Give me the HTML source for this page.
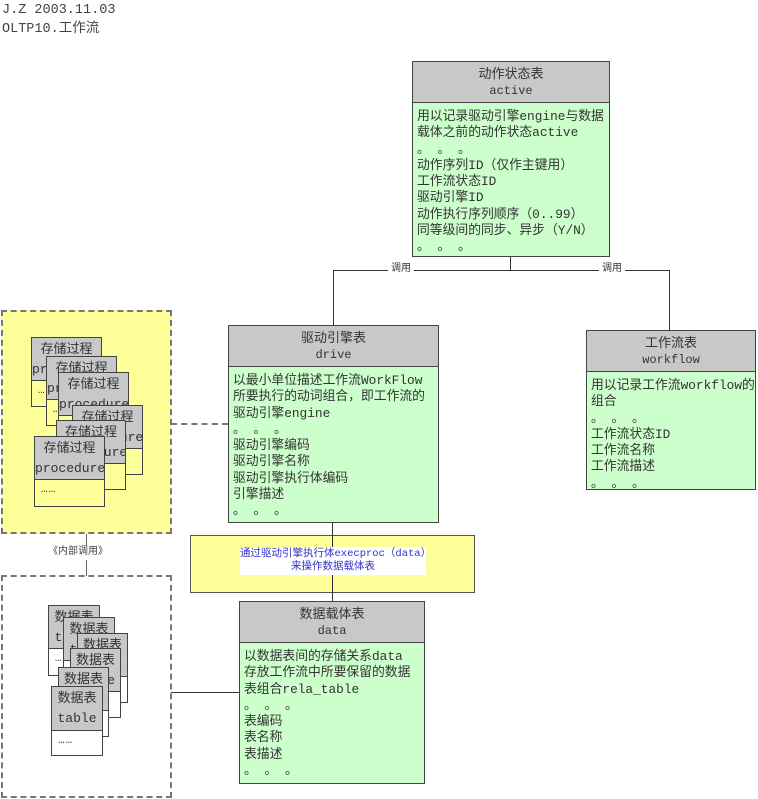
<!DOCTYPE html>
<html><head><meta charset="utf-8"><style>
*{margin:0;padding:0;box-sizing:border-box}
body{width:758px;height:799px;background:#fff;position:relative;overflow:hidden;font-family:"Liberation Mono","Noto Sans CJK SC",monospace;font-size:12px;color:#333}
.a{position:absolute}
.hd{position:absolute;background:#c8c8c8;border:1px solid #444;text-align:center;line-height:17px;padding-top:4px;font-size:13px}
.hd small{font-size:12px;display:block}
.bd{position:absolute;background:#ccffcc;border:1px solid #444;border-top:none;padding:6px 0 0 4px;line-height:16.3px;white-space:nowrap;font-size:12.8px}
.ln{position:absolute;background:#333}
.c{position:absolute;border:1.5px solid #444;background:#ffff99}
.c .h{background:#c8c8c8;border-bottom:1.5px solid #444;text-align:center;line-height:20px;padding-top:2px;font-size:13px;overflow:hidden;white-space:nowrap}
.c .d{padding:4px 0 0 6px;font-size:11px;letter-spacing:1px}
.w{background:#fff}
</style></head><body>
<div class="a" style="left:2px;top:1px;line-height:19px;font-size:13.5px;color:#444">J.Z 2003.11.03<br>OLTP10.工作流</div>

<div class="ln" style="left:510px;top:256px;width:1px;height:15px"></div>
<div class="ln" style="left:333px;top:270px;width:337px;height:1px"></div>
<div class="ln" style="left:333px;top:270px;width:1px;height:56px"></div>
<div class="ln" style="left:669px;top:270px;width:1px;height:61px"></div>
<div class="a" style="left:388px;top:263px;background:#fff;font-size:10px;padding:0 3px;line-height:14px">调用</div>
<div class="a" style="left:599px;top:263px;background:#fff;font-size:10px;padding:0 3px;line-height:14px">调用</div>
<div class="ln" style="left:332px;top:522px;width:1px;height:80px"></div>
<div class="a" style="left:171px;top:423px;width:57px;border-top:2px dashed #777"></div>
<div class="ln" style="left:171px;top:692px;width:68px;height:1px"></div>
<div class="ln" style="left:86px;top:533px;width:1px;height:43px;background:#666"></div>

<div class="hd" style="left:412px;top:61px;width:198px;height:42px">动作状态表<small>active</small></div>
<div class="bd" style="left:412px;top:103px;width:198px;height:154px">用以记录驱动引擎engine与数据<br>载体之前的动作状态active<br>。 。 。<br>动作序列ID（仅作主键用）<br>工作流状态ID<br>驱动引擎ID<br>动作执行序列顺序（0..99）<br>同等级间的同步、异步（Y/N）<br>。 。 。</div>

<div class="hd" style="left:228px;top:325px;width:211px;height:42px">驱动引擎表<small>drive</small></div>
<div class="bd" style="left:228px;top:367px;width:211px;height:156px">以最小单位描述工作流WorkFlow<br>所要执行的动词组合，即工作流的<br>驱动引擎engine<br>。 。 。<br>驱动引擎编码<br>驱动引擎名称<br>驱动引擎执行体编码<br>引擎描述<br>。 。 。</div>

<div class="hd" style="left:586px;top:330px;width:170px;height:42px">工作流表<small>workflow</small></div>
<div class="bd" style="left:586px;top:372px;width:170px;height:118px">用以记录工作流workflow的<br>组合<br>。 。 。<br>工作流状态ID<br>工作流名称<br>工作流描述<br>。 。 。</div>

<div class="a" style="left:190px;top:535px;width:285px;height:58px;background:#ffff99;border:1px solid #555"></div>
<div class="ln" style="left:332px;top:535px;width:1px;height:66px"></div>
<div class="a" style="left:240px;top:547px;width:186px;height:28px;background:#fff;color:#3333cc;font-size:10.5px;line-height:13px;text-align:center;padding-top:1px;white-space:nowrap">通过驱动引擎执行体execproc（data）<br>来操作数据载体表</div>

<div class="hd" style="left:239px;top:601px;width:186px;height:42px">数据载体表<small>data</small></div>
<div class="bd" style="left:239px;top:643px;width:186px;height:141px">以数据表间的存储关系data<br>存放工作流中所要保留的数据<br>表组合rela_table<br>。 。 。<br>表编码<br>表名称<br>表描述<br>。 。 。</div>

<div class="a" style="left:1px;top:310px;width:171px;height:224px;background:#ffff99;border:2px dashed #777"></div>
<div class="c" style="left:31px;top:337px;width:71px;height:70px"><div class="h">存储过程<br>procedure</div><div class="d">……</div></div>
<div class="c" style="left:46px;top:356px;width:71px;height:70px"><div class="h">存储过程<br>procedure</div><div class="d">……</div></div>
<div class="c" style="left:58px;top:372px;width:71px;height:70px"><div class="h">存储过程<br>procedure</div><div class="d">……</div></div>
<div class="c" style="left:72px;top:405px;width:71px;height:70px"><div class="h">存储过程<br>procedure</div><div class="d">……</div></div>
<div class="c" style="left:56px;top:420px;width:70px;height:70px"><div class="h">存储过程<br>procedure</div><div class="d">……</div></div>
<div class="c" style="left:34px;top:436px;width:71px;height:71px"><div class="h" style="height:43px">存储过程<br>procedure</div><div class="d">……</div></div>

<div class="a" style="left:46px;top:546px;font-size:10px;line-height:14px;background:#fff;padding:0 2px;color:#444">《内部调用》</div>

<div class="a" style="left:1px;top:575px;width:171px;height:223px;border:2px dashed #777"></div>
<div class="c w" style="left:48px;top:605px;width:52px;height:71px"><div class="h">数据表<br>table</div><div class="d">……</div></div>
<div class="c w" style="left:63px;top:617px;width:52px;height:70px"><div class="h">数据表<br>table</div><div class="d">……</div></div>
<div class="c w" style="left:77px;top:633px;width:51px;height:70px"><div class="h">数据表<br>table</div><div class="d">……</div></div>
<div class="c w" style="left:70px;top:648px;width:51px;height:70px"><div class="h">数据表<br>table</div><div class="d">……</div></div>
<div class="c w" style="left:58px;top:667px;width:51px;height:70px"><div class="h">数据表<br>table</div><div class="d">……</div></div>
<div class="c w" style="left:51px;top:686px;width:52px;height:70px"><div class="h" style="height:44px">数据表<br>table</div><div class="d">……</div></div>
</body></html>
